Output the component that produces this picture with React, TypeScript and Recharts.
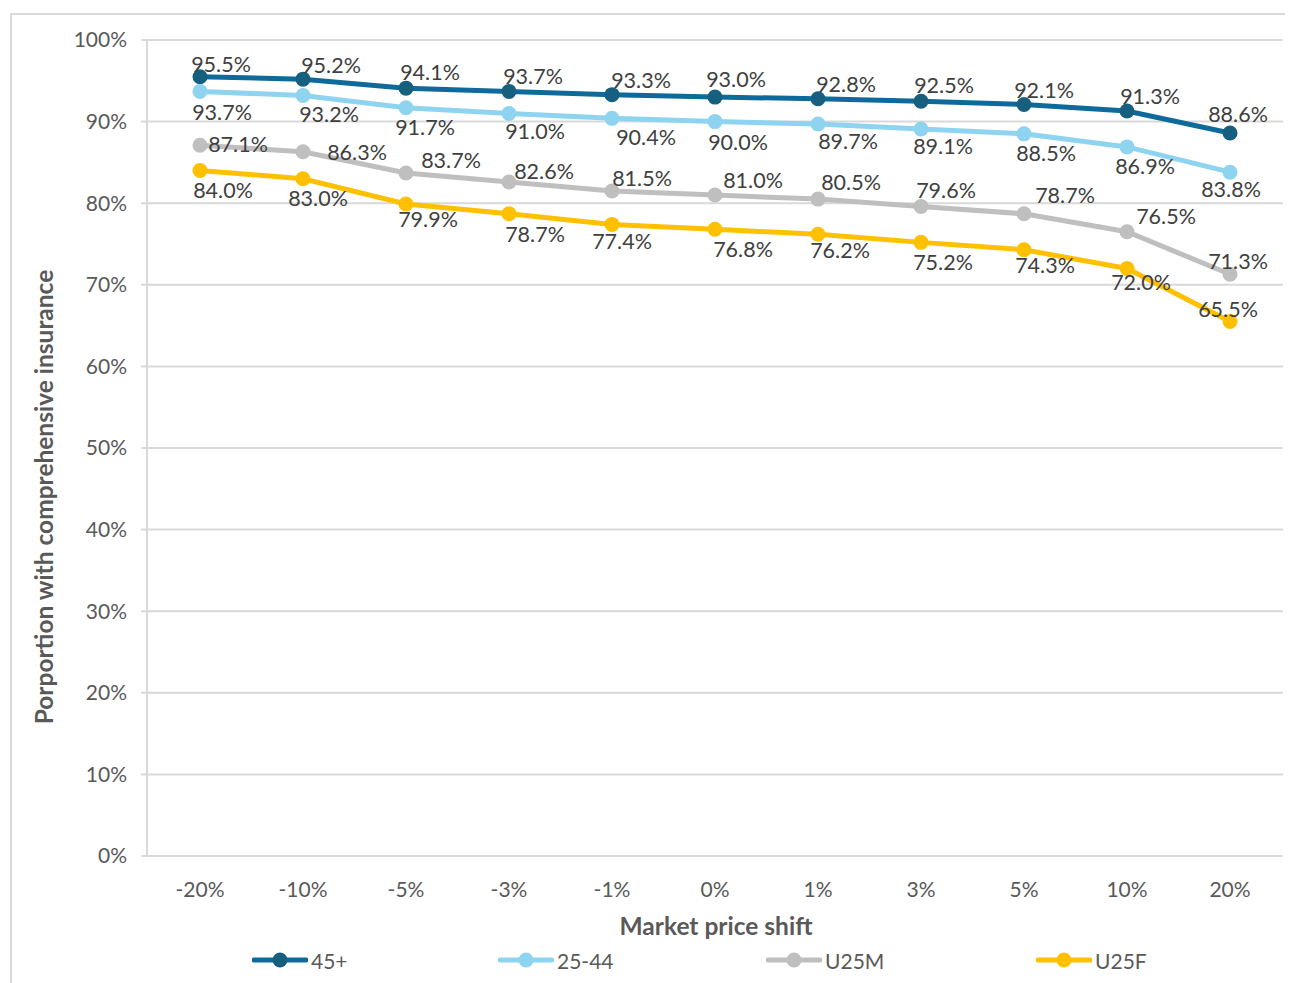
import React from "react";
import { LineChart, Line, XAxis, YAxis, CartesianGrid, LabelList } from "recharts";

// Market price shift categories
const shifts = ["-20%", "-10%", "-5%", "-3%", "-1%", "0%", "1%", "3%", "5%", "10%", "20%"];

// Proportion with comprehensive insurance, by driver group (%)
const age45plus = [95.5, 95.2, 94.1, 93.7, 93.3, 93.0, 92.8, 92.5, 92.1, 91.3, 88.6];
const age25to44 = [93.7, 93.2, 91.7, 91.0, 90.4, 90.0, 89.7, 89.1, 88.5, 86.9, 83.8];
const under25M = [87.1, 86.3, 83.7, 82.6, 81.5, 81.0, 80.5, 79.6, 78.7, 76.5, 71.3];
const under25F = [84.0, 83.0, 79.9, 78.7, 77.4, 76.8, 76.2, 75.2, 74.3, 72.0, 65.5];

const yTicks = [0, 10, 20, 30, 40, 50, 60, 70, 80, 90, 100];

const data = shifts.map((s, i) => ({
  shift: s,
  a45: age45plus[i],
  a2544: age25to44[i],
  u25m: under25M[i],
  u25f: under25F[i],
}));

// Label nudges (dx, dy from the point centre), per series
const offA45 = {
  dx: [21, 28, 24, 24, 29, 21, 28, 23, 20, 23, 8],
  dy: [-13, -14, -16, -15, -15, -18, -15, -16, -14, -15, -19],
};
const offA2544 = {
  dx: [22, 26, 19, 26, 34, 23, 30, 22, 22, 18, 1],
  dy: [21, 19, 19, 18, 19, 20, 17, 17, 19, 19, 17],
};
const offU25M = {
  dx: [38, 54, 45, 35, 30, 38, 33, 25, 41, 39, 8],
  dy: [-1, 0, -13, -11, -13, -15, -17, -16, -19, -16, -13],
};
const offU25F = {
  dx: [23, 15, 22, 26, 10, 28, 22, 22, 21, 14, -2],
  dy: [19, 19, 15, 20, 17, 20, 16, 20, 15, 14, -13],
};

const FONT = "Lato, 'Open Sans', sans-serif";

const makeLabel = (off: { dx: number[]; dy: number[] }) => (props: any) => {
  const { x, y, value, index } = props;
  return (
    <text
      x={x + off.dx[index]}
      y={y + off.dy[index]}
      textAnchor="middle"
      dominantBaseline="central"
      fontFamily={FONT}
      fontSize={21.5}
      fill="#404040"
    >
      {Number(value).toFixed(1)}%
    </text>
  );
};

const series = [
  { key: "a45", name: "45+", line: "#0E6A9A", dot: "#175F7E", off: offA45 },
  { key: "a2544", name: "25-44", line: "#8ED4F0", dot: "#8ED4F0", off: offA2544 },
  { key: "u25m", name: "U25M", line: "#BFBFBF", dot: "#BFBFBF", off: offU25M },
  { key: "u25f", name: "U25F", line: "#FFC000", dot: "#FFC000", off: offU25F },
];

const legendX = [244, 490, 758, 1028];

export default function App() {
  return (
    <div style={{ position: "relative", width: 1285, height: 975, background: "#fff" }}>
      <div
        style={{
          position: "absolute",
          left: 2,
          top: 5,
          width: 1300,
          height: 1000,
          borderLeft: "2px solid #d9d9d9",
          borderTop: "2px solid #d9d9d9",
        }}
      />
      <div style={{ position: "absolute", left: 0, top: 0 }}>
        <LineChart
          width={1285}
          height={975}
          data={data}
          margin={{ top: 32, right: 10, left: 0, bottom: 77 }}
        >
          <CartesianGrid vertical={false} stroke="#d9d9d9" strokeWidth={2} />
          <XAxis
            dataKey="shift"
            padding={{ left: 53, right: 53 }}
            axisLine={{ stroke: "#d9d9d9", strokeWidth: 2 }}
            tickLine={false}
            tickMargin={20}
            height={50}
            tick={{ fontFamily: FONT, fontSize: 21, fill: "#595959" }}
          />
          <YAxis
            width={139}
            domain={[0, 100]}
            ticks={yTicks}
            interval={0}
            axisLine={{ stroke: "#d9d9d9", strokeWidth: 2 }}
            tickLine={{ stroke: "#d9d9d9", strokeWidth: 2 }}
            tickSize={6}
            tickMargin={14}
            tickFormatter={(v: number) => `${v}%`}
            tick={{ fontFamily: FONT, fontSize: 21, fill: "#595959" }}
          />
          {series.map((s) => (
            <Line
              key={s.key}
              dataKey={s.key}
              name={s.name}
              stroke={s.line}
              strokeWidth={5}
              dot={{ r: 7.5, fill: s.dot, stroke: s.dot, strokeWidth: 0 }}
              activeDot={false}
              isAnimationActive={false}
            >
              <LabelList dataKey={s.key} content={makeLabel(s.off)} />
            </Line>
          ))}
        </LineChart>
      </div>
      {/* axis titles */}
      <div
        style={{
          position: "absolute",
          left: 708 - 200,
          width: 400,
          top: 903,
          textAlign: "center",
          fontFamily: FONT,
          fontWeight: 700,
          fontSize: 24.5,
          color: "#595959",
        }}
      >
        Market price shift
      </div>
      <div
        style={{
          position: "absolute",
          left: 36 - 300,
          top: 489 - 15,
          width: 600,
          height: 30,
          lineHeight: "30px",
          textAlign: "center",
          transform: "rotate(-90deg)",
          fontFamily: FONT,
          fontWeight: 700,
          fontSize: 24.5,
          color: "#595959",
        }}
      >
        Porportion with comprehensive insurance
      </div>
      {/* legend */}
      {series.map((s, i) => (
        <div
          key={s.key}
          style={{
            position: "absolute",
            left: legendX[i],
            top: 940,
            height: 24,
            display: "flex",
            alignItems: "center",
            fontFamily: FONT,
            fontSize: 21,
            color: "#595959",
          }}
        >
          <svg width={56} height={20} style={{ marginRight: 3 }}>
            <line x1={2} y1={10} x2={54} y2={10} stroke={s.line} strokeWidth={5} strokeLinecap="round" />
            <circle cx={28} cy={10} r={7.5} fill={s.dot} />
          </svg>
          {s.name}
        </div>
      ))}
    </div>
  );
}
